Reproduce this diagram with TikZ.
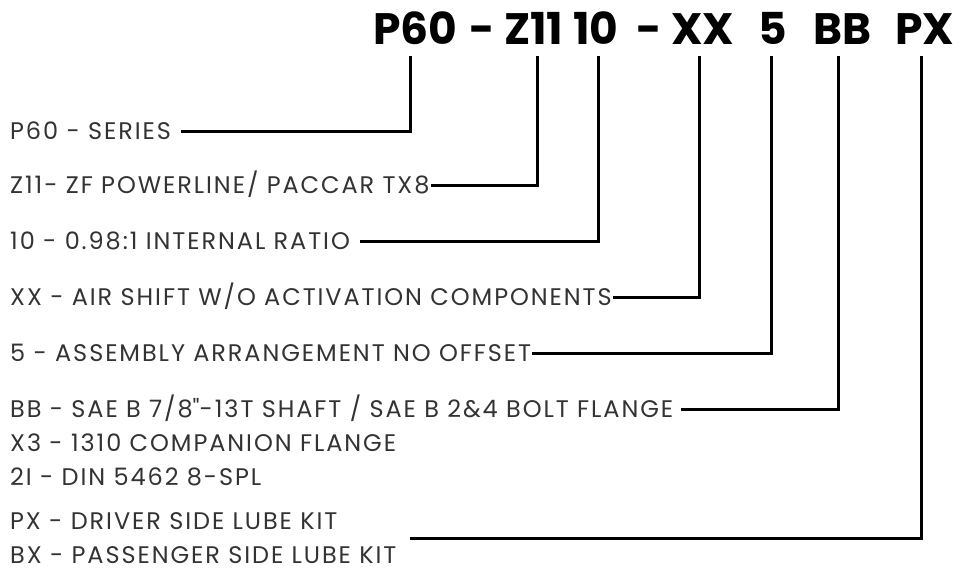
\documentclass[tikz,border=0pt]{standalone}
\usepackage{fontspec}
\setmainfont{Poppins}
\usetikzlibrary{calc}

\begin{document}
\begin{tikzpicture}[
		x=1pt, y=-1pt,
		code/.style={anchor=base west, inner sep=0pt, font=\fontsize{44}{48}\selectfont\bfseries},
		item/.style={anchor=west, inner sep=0pt, text height=16.5pt, text depth=0pt, text=black!80,
			font=\fontsize{24}{28}\selectfont\addfontfeature{LetterSpace=8}},
		lead/.style={line width=3pt, line cap=butt, line join=miter},
		gap/.style={shorten <=#1}
		]
		\useasboundingbox (0,0) rectangle (960,576);
		
		% part number, one piece per code
		\node (cP60) at (373, 44) [code] {P60};
		\node (dashA) at (469, 44) [code] {-};
		\node (cZ11) at (504, 44) [code] {Z11};
		\node (cTen) at (573, 44) [code] {10};
		\node (dashB) at (636, 44) [code] {-};
		\node (cXX) at (671, 44) [code] {XX};
		\node (cFive) at (758, 44) [code] {5};
		\node (cBB) at (813, 44) [code] {BB};
		\node (cPX) at (895, 44) [code] {PX};
		
		\coordinate (tP60) at (410, 56);
		\coordinate (tZ11) at (537, 56);
		\coordinate (tTen) at (598, 56);
		\coordinate (tXX) at (699, 56);
		\coordinate (tFive) at (771, 56);
		\coordinate (tBB) at (838, 56);
		\coordinate (tPX) at (921, 56);
		
		% descriptions
		\node (series) at (10, 131) [item] {P60 - SERIES};
		\node (z11) at (10, 185) [item] {Z11- ZF POWERLINE/ PACCAR TX8};
		\node (ratio) at (10, 241) [item] {10 - 0.98:1 INTERNAL RATIO};
		\node (shift) at (10, 297) [item] {XX - AIR SHIFT W/O ACTIVATION COMPONENTS};
		\node (arrange) at (10, 353) [item] {5 - ASSEMBLY ARRANGEMENT NO OFFSET};
		\node (bb) at (10, 409) [item] {BB - SAE B 7/8\textquotedbl-13T SHAFT / SAE B 2\&4 BOLT FLANGE};
		\node (x3) at (10, 443) [item] {X3 - 1310 COMPANION FLANGE};
		\node (din) at (10, 477) [item] {2I - DIN 5462 8-SPL};
		\node (px) at (10, 521) [item] {PX - DRIVER SIDE LUBE KIT};
		\node (bx) at (10, 555) [item] {BX - PASSENGER SIDE LUBE KIT};
		\coordinate (lube) at ($(bx.east)!0.5!(bx.east |- px.east)$);
		
		\draw [lead, gap=10pt] (series.east) -| (tP60);
		\draw [lead, gap=1pt] (z11.east) -| (tZ11);
		\draw [lead, gap=10pt] (ratio.east) -| (tTen);
		\draw [lead, gap=1pt] (shift.east) -| (tXX);
		\draw [lead, gap=1pt] (arrange.east) -| (tFive);
		\draw [lead, gap=8pt] (bb.east) -| (tBB);
		\draw [lead, gap=13pt] (lube) -| (tPX);
	\end{tikzpicture}
\end{document}
